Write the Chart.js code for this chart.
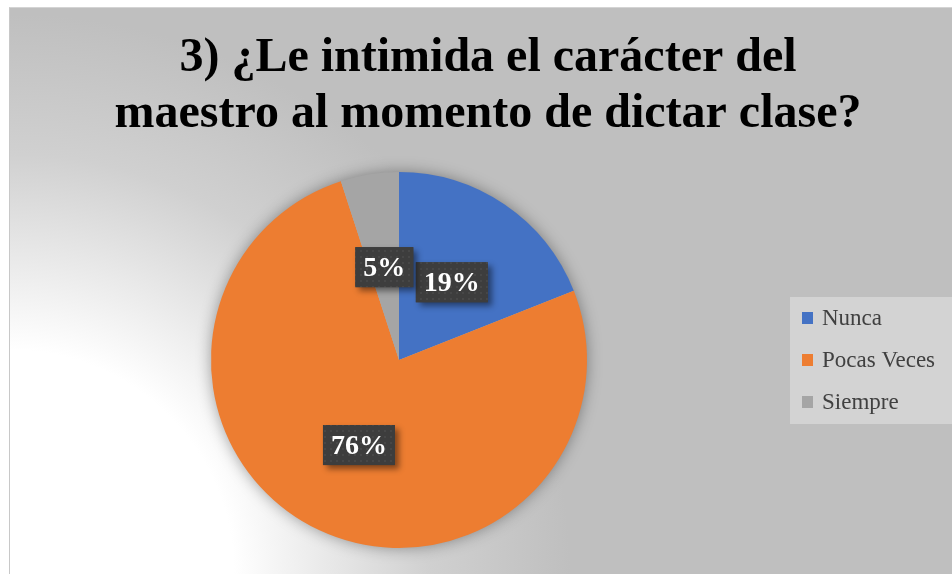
<!DOCTYPE html>
<html>
<head>
<meta charset="utf-8">
<script src="https://cdn.jsdelivr.net/npm/chart.js@4"></script>
<style>
  html, body { margin: 0; padding: 0; background: #fff; overflow: hidden; }
  #wrap { position: absolute; left: 9px; top: 7px; border-left: 1px solid #c8c8c8; border-top: 1px solid #d4d4d4; }
  canvas { display: block; }
</style>
</head>
<body>
<div id="wrap"><canvas id="pie" width="956" height="566"></canvas></div>
<script>
// datos de la encuesta (pregunta 3)
const categories = ['Nunca', 'Pocas Veces', 'Siempre'];
const percentValues = [19, 76, 5];
const sliceColors = ['#4472C4', '#ED7D31', '#A5A5A5'];
const titleLines = ['3) ¿Le intimida el carácter del', 'maestro al momento de dictar clase?'];

const serif = "'Liberation Serif', 'Times New Roman', serif";

// fondo degradado + cuadro de leyenda
const backgroundPlugin = {
  id: 'bgPlugin',
  afterLayout(chart) {
    // el título ocupa todo el ancho del gráfico
    const t = chart.titleBlock;
    if (t) { t.left = 0; t.right = chart.width; t.width = chart.width; }
  },
  beforeDraw(chart) {
    const ctx = chart.ctx;
    const w = chart.width, h = chart.height;
    ctx.save();
    const g = ctx.createRadialGradient(0, h, 0, 0, h, 560);
    g.addColorStop(0, '#ffffff');
    g.addColorStop(0.4, '#ffffff');
    g.addColorStop(0.75, '#d0d0d0');
    g.addColorStop(1, '#bfbfbf');
    ctx.fillStyle = g;
    ctx.fillRect(0, 0, w, h);

    // leyenda
    ctx.fillStyle = '#d3d3d3';
    ctx.fillRect(780, 289, 170, 127);
    ctx.font = '23px ' + serif;
    ctx.textBaseline = 'middle';
    const ds = chart.data.datasets[0];
    chart.data.labels.forEach((lab, i) => {
      const y = 310 + i * 42;
      ctx.fillStyle = ds.backgroundColor[i];
      ctx.fillRect(792, y - 6, 11, 12);
      ctx.fillStyle = '#404040';
      ctx.fillText(lab, 812, y + 1);
    });
    ctx.restore();
  },
  beforeDatasetsDraw(chart) {
    // sombra suave alrededor del pastel
    const arc = chart.getDatasetMeta(0).data[0];
    if (!arc) return;
    const ctx = chart.ctx;
    ctx.save();
    ctx.shadowColor = 'rgba(0,0,0,0.4)';
    ctx.shadowBlur = 16;
    ctx.fillStyle = '#b0b0b0';
    ctx.beginPath();
    ctx.arc(arc.x, arc.y, arc.outerRadius - 1, 0, Math.PI * 2);
    ctx.fill();
    ctx.restore();
  }
};

// etiquetas de porcentaje con caja oscura y sombra
let dotPattern = null;
function getPattern(ctx) {
  if (dotPattern) return dotPattern;
  const c = document.createElement('canvas');
  c.width = 6; c.height = 6;
  const p = c.getContext('2d');
  p.fillStyle = '#3d3d3d';
  p.fillRect(0, 0, 6, 6);
  p.fillStyle = '#474747';
  p.fillRect(2, 2, 2, 2);
  dotPattern = ctx.createPattern(c, 'repeat');
  return dotPattern;
}

const labelPlugin = {
  id: 'labelPlugin',
  afterDatasetsDraw(chart) {
    const ctx = chart.ctx;
    const meta = chart.getDatasetMeta(0);
    const vals = chart.data.datasets[0].data;
    ctx.save();
    ctx.font = 'bold 28px ' + serif;
    meta.data.forEach((arc, i) => {
      const pos = arc.tooltipPosition();
      const txt = vals[i] + '%';
      const tw = ctx.measureText(txt).width;
      const bw = tw + 16, bh = 40;
      const x = pos.x - bw / 2, y = pos.y - bh / 2;
      ctx.save();
      ctx.shadowColor = 'rgba(0,0,0,0.45)';
      ctx.shadowBlur = 6;
      ctx.shadowOffsetX = 4;
      ctx.shadowOffsetY = 4;
      ctx.fillStyle = '#3f3f3f';
      ctx.fillRect(x, y, bw, bh);
      ctx.restore();
      ctx.fillStyle = getPattern(ctx);
      ctx.fillRect(x, y, bw, bh);
      ctx.fillStyle = '#ffffff';
      ctx.textAlign = 'center';
      ctx.textBaseline = 'middle';
      ctx.fillText(txt, pos.x, pos.y + 2);
    });
    ctx.restore();
  }
};

const ctx = document.getElementById('pie').getContext('2d');
const chart = new Chart(ctx, {
  type: 'pie',
  data: {
    labels: categories,
    datasets: [{
      data: percentValues,
      backgroundColor: sliceColors,
      borderWidth: 0
    }]
  },
  options: {
    responsive: false,
    animation: false,
    layout: {
      padding: { left: 201, right: 379, top: 0, bottom: 26 }
    },
    plugins: {
      legend: { display: false },
      tooltip: { enabled: false },
      title: {
        display: true,
        text: titleLines,
        color: '#000000',
        font: { family: serif, size: 48, weight: 'bold', lineHeight: 1.1667 },
        padding: { top: 23, bottom: 29 }
      }
    }
  },
  plugins: [backgroundPlugin, labelPlugin]
});
</script>
</body>
</html>
